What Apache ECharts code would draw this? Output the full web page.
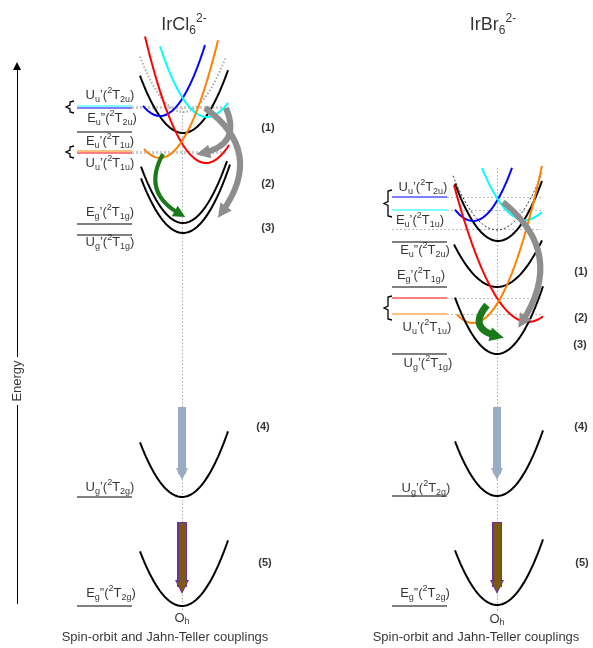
<!DOCTYPE html>
<html><head><meta charset="utf-8">
<script src="https://cdn.jsdelivr.net/npm/echarts@6/dist/echarts.min.js"></script>
<style>html,body{margin:0;padding:0;background:#fff}#c{width:593px;height:648px}</style>
</head><body><div id="c"></div>
<script>
const F = '"Liberation Sans", Arial, sans-serif';

// ================= DATA =================
// Potential-energy curves: [vertexX, vertexY, curvature, xStart, xEnd]
const clCurves = [
  [183, 112, 0.030, 140, 226],
  [183, 133, 0.031, 140, 228],
  [160, 116, 0.035, 143, 205],
  [207, 117, 0.032, 160, 228],
  [206, 163, 0.034, 145, 229],
  [160, 158, 0.035, 144, 218],
  [183, 223, 0.032, 141, 227],
  [183, 233, 0.031, 141, 230],
  [182, 497, 0.031, 140, 228],
  [182, 606, 0.031, 140, 228]
];
const brCurves = [
  [497, 230, 0.028, 453, 542],
  [498, 241, 0.031, 455, 542],
  [473, 221, 0.035, 455, 512],
  [525, 220, 0.028, 482, 542],
  [497, 287, 0.023, 454, 542],
  [528, 322, 0.025, 454, 543],
  [473, 323, 0.033, 457, 542],
  [497, 354, 0.032, 455, 543],
  [497, 496, 0.031, 455, 543],
  [497, 605, 0.031, 455, 543]
];
// Level energies (left-hand bars)
const clLevelY = [106, 108, 132, 151, 153, 224, 235, 497, 606];
const brLevelY = [197, 210, 242, 287, 298, 314, 354, 496, 606];
const clLevelX = [77, 132];
const brLevelX = [392, 447];
// Dotted guides: [x0, y0, x1, y1]
const clGuides = [[132, 107, 228, 107], [132, 152, 228, 152]];
const brGuides = [[447, 197, 541, 197], [447, 210, 541, 210], [392, 229, 541, 229], [447, 298, 541, 298], [447, 314, 541, 314]];
const axisGuides = [[182, 108, 182, 612], [497, 168, 497, 612]];
// Brackets: [x, top, bottom]
const brackets = [[70, 101, 113], [70, 146, 158], [388, 190, 217], [388, 296, 320]];
// Curved arrows: [x0, y0, x1, y1, curveness]
const grayArrows = [[205, 108, 222, 212, 0.5], [226, 108, 203, 153, 0.6], [503, 202, 522, 322, 0.45]];
const greenArrows = [[163, 154, 180, 214, -0.5], [487, 305, 497, 336, -0.8]];
// Vertical relaxation arrows: [x, yStart, yTip]
const blueArrows = [[182, 407, 480], [497, 407, 480]];
const brownArrows = [[182, 522, 594], [497, 522, 594]];
// Labels
const clTerms = [['U','u','’','2u'],['E','u','”','2u'],['E','u','’','1u'],['U','u','’','1u'],['E','g','’','1g'],['U','g','’','1g'],['U','g','’','2g'],['E','g','”','2g']];
const clTermPos = [[110,95],[112,118],[110,141],[110,163],[110,212],[110,242],[110,487],[111,593]];
const brTerms = [['U','u','’','2u'],['E','u','’','1u'],['E','u','”','2u'],['E','g','’','1g'],['U','u','’','1u'],['U','g','’','1g'],['U','g','’','2g'],['E','g','”','2g']];
const brTermPos = [[423,187],[420,220],[425,250],[421,275],[427,327],[428,363],[426,488],[425,593]];
const stepNames = ['(1)', '(2)', '(3)', '(4)', '(5)'];
const clStepPos = [[268,128],[268,184],[268,228],[263,427],[265,563]];
const brStepPos = [[581,272],[581,318],[580,345],[581,427],[582,563]];
const titles = ['IrCl', 'IrBr'];
const titlePos = [[184, 25], [493, 25]];
const groupPos = [[182, 618], [497, 619]];
const captionText = 'Spin-orbit and Jahn-Teller couplings';
const captionPos = [[165, 637], [476, 637]];
const energyPos = [17, 381];
const energyAxis = [[17, 604, 17, 405], [17, 357, 17, 62]];

// ================= STYLES =================
const STY = {
  black: { color: '#000000', width: 2, type: 'solid' },
  red: { color: '#ff0000', width: 2, type: 'solid' },
  orange: { color: '#ff8000', width: 2, type: 'solid' },
  blue: { color: '#0000ff', width: 2, type: 'solid' },
  cyan: { color: '#00ffff', width: 2, type: 'solid' },
  dotGray: { color: '#aaaaaa', width: 2, type: [1.5, 2] },
  dotBlack: { color: '#333333', width: 1, type: [2, 2] }
};
const clCurveStyle = ['dotGray','black','blue','cyan','red','orange','black','black','black','black'];
const brCurveStyle = ['dotBlack','black','blue','cyan','black','red','orange','black','black','black'];
const clLevelStyle = ['cyan','blue','black','orange','red','black','black','black','black'];
const brLevelStyle = ['blue','cyan','black','black','red','orange','black','black','black'];

// ================= BUILD =================
const series = [];
function addCurves(curves, styles) {
  curves.forEach((c, i) => {
    const [vx, vy, k, x0, x1] = c;
    const pts = [];
    for (let x = x0; x <= x1; x += 1) pts.push([x, vy - k * (x - vx) * (x - vx)]);
    const st = STY[styles[i]];
    series.push({ type: 'line', data: pts, symbol: 'none', showSymbol: false, silent: true, clip: false, z: 2,
      lineStyle: { color: st.color, width: st.width, type: st.type } });
  });
}
addCurves(clCurves, clCurveStyle);
addCurves(brCurves, brCurveStyle);

function segs(list, ls, z) {
  return { type: 'lines', coordinateSystem: 'cartesian2d', silent: true, z: z || 3, symbol: ['none', 'none'],
    lineStyle: ls, data: list.map(s => ({ coords: [[s[0], s[1]], [s[2], s[3]]] })) };
}
function levels(ys, styles, xr) {
  return { type: 'lines', coordinateSystem: 'cartesian2d', silent: true, z: 3, symbol: ['none', 'none'],
    lineStyle: { width: 2 },
    data: ys.map((y, i) => ({ coords: [[xr[0], y], [xr[1], y]], lineStyle: { color: STY[styles[i]].color, width: 2, type: 'solid' } })) };
}
series.push(segs(clGuides, { color: '#9a9a9a', width: 3, type: [2, 2] }, 1));
series.push(segs(brGuides, { color: '#777777', width: 1, type: [2, 2] }, 1));
series.push(segs(axisGuides, { color: '#555555', width: 1, type: [1.5, 2] }, 1));
series.push(levels(clLevelY, clLevelStyle, clLevelX));
series.push(levels(brLevelY, brLevelStyle, brLevelX));

// brackets
series.push({ type: 'lines', coordinateSystem: 'cartesian2d', polyline: true, silent: true, z: 3,
  lineStyle: { color: '#000', width: 1.3, opacity: 1 },
  data: brackets.map(b => {
    const [x, t, bt] = b; const m = (t + bt) / 2;
    return { coords: [[x + 4, t], [x, t + 1], [x, m - 2], [x - 4, m], [x, m + 2], [x, bt - 1], [x + 4, bt]] };
  }) });

// energy axis
series.push(segs([energyAxis[0]], { color: '#000', width: 1, opacity: 1 }, 3));
series.push({ type: 'lines', coordinateSystem: 'cartesian2d', silent: true, z: 3, symbol: ['none', 'triangle'], symbolSize: [6, 8],
  lineStyle: { color: '#000', width: 1, opacity: 1 },
  data: [{ coords: [[energyAxis[1][0], energyAxis[1][1]], [energyAxis[1][2], energyAxis[1][3] + 4]] }] });

// curved arrows
function curved(list, color, width, size, z) {
  return { type: 'lines', coordinateSystem: 'cartesian2d', silent: true, z: z, symbol: ['none', 'triangle'], symbolSize: size,
    lineStyle: { color: color, width: width, opacity: 1 },
    data: list.map(a => ({ coords: [[a[0], a[1]], [a[2], a[3]]], lineStyle: { curveness: a[4] } })) };
}
series.push(curved(grayArrows, '#8e8e8e', 6, [17, 14], 6));
series.push(curved([greenArrows[0]], '#1a7a1a', 4, [12, 12], 7));
series.push(curved([greenArrows[1]], '#1a7a1a', 7, [18, 14], 7));

// vertical arrows
function vArrow(list, color, width, size, z) {
  return { type: 'lines', coordinateSystem: 'cartesian2d', silent: true, z: z, symbol: ['none', 'triangle'], symbolSize: size,
    lineStyle: { color: color, width: width, opacity: 1 },
    data: list.map(a => ({ coords: [[a[0], a[1]], [a[0], a[2] - size[1] / 2]] })) };
}
series.push(vArrow(blueArrows, '#9aabc4', 8, [16, 12], 6));
series.push(vArrow(brownArrows, '#7030a0', 10, [18, 14], 6));
series.push(vArrow(brownArrows.map(a => [a[0], a[1] + 1, a[2] - 2]), '#7a5a12', 7, [13, 10], 7));

// labels
const rich = {
  n: { fontSize: 13, fontFamily: F, color: '#000', lineHeight: 18, verticalAlign: 'middle' },
  s: { fontSize: 9, fontFamily: F, color: '#000', lineHeight: 9, verticalAlign: 'bottom' },
  p: { fontSize: 9, fontFamily: F, color: '#000', lineHeight: 9, verticalAlign: 'top' },
  b: { fontSize: 11, fontFamily: F, color: '#000', fontWeight: 'bold' },
  tn: { fontSize: 18, fontFamily: F, color: '#000', lineHeight: 24, verticalAlign: 'middle' },
  ts: { fontSize: 12, fontFamily: F, color: '#000', lineHeight: 10, verticalAlign: 'bottom' },
  tp: { fontSize: 12, fontFamily: F, color: '#000', lineHeight: 12, verticalAlign: 'top' },
  c: { fontSize: 13, fontFamily: F, color: '#000' },
  on: { fontSize: 13, fontFamily: F, color: '#000', lineHeight: 16, verticalAlign: 'middle' },
  os: { fontSize: 9, fontFamily: F, color: '#000', lineHeight: 8, verticalAlign: 'bottom' }
};
const term = t => `{n|${t[0]}}{s|${t[1]}}{n|${t[2]}(}{p|2}{n|T}{s|${t[3]}}{n|)}`;
const labelItems = [];
function addLabel(pos, text, rotate) {
  labelItems.push({ value: pos, label: { show: true, position: 'inside', formatter: text, rotate: rotate || 0,
    color: '#000', textBorderWidth: 0, align: 'center', verticalAlign: 'middle', rich: rich } });
}
clTerms.forEach((t, i) => addLabel(clTermPos[i], term(t)));
brTerms.forEach((t, i) => addLabel(brTermPos[i], term(t)));
stepNames.forEach((s, i) => { addLabel(clStepPos[i], `{b|${s}}`); addLabel(brStepPos[i], `{b|${s}}`); });
titles.forEach((t, i) => addLabel(titlePos[i], `{tn|${t}}{ts|6}{tp|2-}`));
groupPos.forEach(p => addLabel(p, '{on|O}{os|h}'));
captionPos.forEach(p => addLabel(p, `{c|${captionText}}`));
addLabel(energyPos, '{c|Energy}', 90);
series.push({ type: 'scatter', symbolSize: 0, silent: true, z: 10, data: labelItems, itemStyle: { color: 'rgba(0,0,0,0)' } });

const chart = echarts.init(document.getElementById('c'));
chart.setOption({
  animation: false,
  backgroundColor: '#fff',
  grid: { left: 0, right: 0, top: 0, bottom: 0 },
  xAxis: { type: 'value', min: 0, max: 593, show: false },
  yAxis: { type: 'value', min: 0, max: 648, inverse: true, show: false },
  series: series
});
</script></body></html>
